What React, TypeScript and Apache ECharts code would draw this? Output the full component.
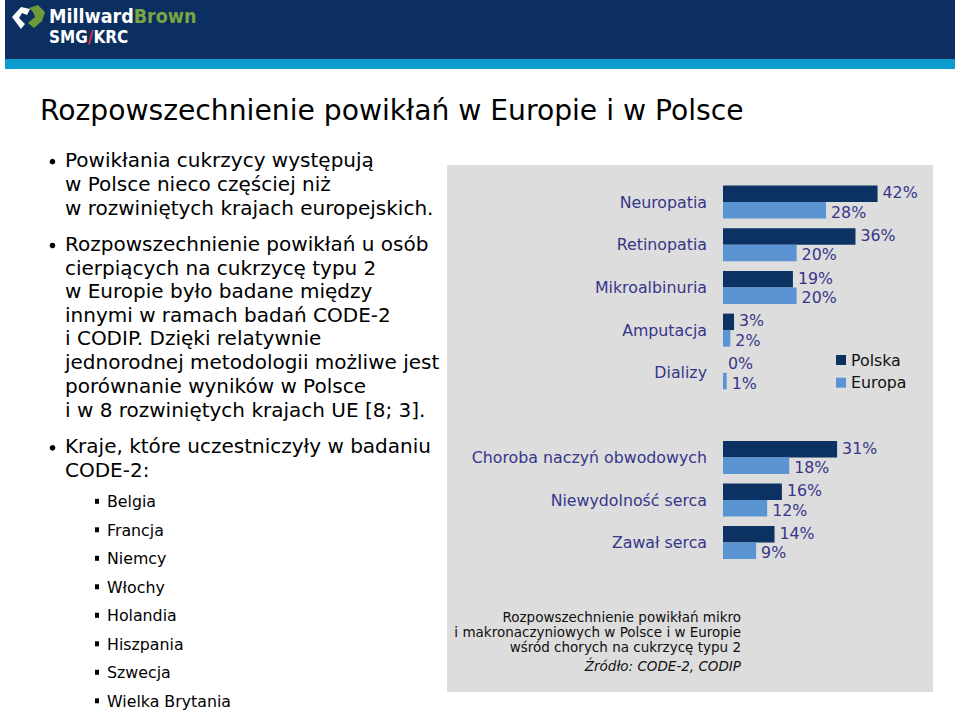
import React, { useEffect, useRef } from "react";
import * as echarts from "echarts";

const topCategories = ["Neuropatia", "Retinopatia", "Mikroalbinuria", "Amputacja", "Dializy"];
const topPolska = [42, 36, 19, 3, 0];
const topEuropa = [28, 20, 20, 2, 1];

const bottomCategories = ["Choroba naczyń obwodowych", "Niewydolność serca", "Zawał serca"];
const bottomPolska = [31, 16, 14];
const bottomEuropa = [18, 12, 9];

const seriesNames = ["Polska", "Europa"];

const titleText = "Rozpowszechnienie powikłań w Europie i w Polsce";
const bullet1 = ["Powikłania cukrzycy występują", "w Polsce nieco częściej niż", "w rozwiniętych krajach europejskich."];
const bullet2 = [
  "Rozpowszechnienie powikłań u osób",
  "cierpiących na cukrzycę typu 2",
  "w Europie było badane między",
  "innymi w ramach badań CODE-2",
  "i CODIP. Dzięki relatywnie",
  "jednorodnej metodologii możliwe jest",
  "porównanie wyników w Polsce",
  "i w 8 rozwiniętych krajach UE [8; 3].",
];
const bullet3 = ["Kraje, które uczestniczyły w badaniu", "CODE-2:"];
const countries = ["Belgia", "Francja", "Niemcy", "Włochy", "Holandia", "Hiszpania", "Szwecja", "Wielka Brytania"];
const captionLines = [
  "Rozpowszechnienie powikłań mikro",
  "i makronaczyniowych w Polsce i w Europie",
  "wśród chorych na cukrzycę typu 2",
];
const sourceText = "Źródło: CODE-2, CODIP";

const FONT = "'DejaVu Sans', Verdana, sans-serif";
const NAVY = "#0b3263";
const LIGHT = "#5a94d2";
const LABEL = "#36368a";

export default function App() {
  const ref = useRef<HTMLDivElement>(null);

  useEffect(() => {
    if (!ref.current) return;
    const chart = echarts.init(ref.current, undefined, { renderer: "svg" });

    const BODY = 20;
    const mid = (baseline: number, fs: number) => baseline - 0.35 * fs;
    const graphics: any[] = [];

    // header
    graphics.push({ type: "rect", shape: { x: 5, y: 0, width: 950, height: 59 }, style: { fill: "#0a2f60" }, z: 0 });
    graphics.push({ type: "rect", shape: { x: 5, y: 59, width: 950, height: 10 }, style: { fill: "#0d9bd0" }, z: 0 });
    // logo icon
    graphics.push({
      type: "polygon",
      shape: { points: [[12, 17], [21, 7], [30, 9], [27, 15], [22, 13], [19, 18], [25, 24], [21, 29]] },
      style: { fill: "#ffffff" },
      z: 1,
    });
    graphics.push({
      type: "polygon",
      shape: { points: [[29, 8], [38, 5], [45, 12], [42, 21], [34, 28], [28, 23], [35, 17], [33, 12]] },
      style: { fill: "#6f9a3c" },
      z: 1,
    });
    const LOGOFONT = "'DejaVu Sans Condensed', 'DejaVu Sans', sans-serif";
    graphics.push({
      type: "text",
      x: 49,
      y: 16.5,
      style: {
        text: "{a|Millward}{b|Brown}",
        verticalAlign: "middle",
        rich: {
          a: { fill: "#ffffff", fontSize: 19.5, fontWeight: "bold", fontFamily: LOGOFONT },
          b: { fill: "#7aa542", fontSize: 19.5, fontWeight: "bold", fontFamily: LOGOFONT },
        },
      },
      z: 1,
    });
    graphics.push({
      type: "text",
      x: 49,
      y: 36.5,
      style: {
        text: "{a|SMG}{b|/}{a|KRC}",
        verticalAlign: "middle",
        rich: {
          a: { fill: "#ffffff", fontSize: 17, fontWeight: "bold", fontFamily: LOGOFONT },
          b: { fill: "#e0303c", fontSize: 17, fontWeight: "bold", fontFamily: LOGOFONT },
        },
      },
      z: 1,
    });

    // title
    graphics.push({
      type: "text",
      x: 40,
      y: mid(120, 28),
      style: { text: titleText, fontSize: 28.2, fontFamily: FONT, fill: "#000", align: "left", verticalAlign: "middle" },
    });

    const addText = (t: string, x: number, baseline: number, fs: number) =>
      graphics.push({
        type: "text",
        x,
        y: mid(baseline, fs),
        style: { text: t, fontSize: fs, fontFamily: FONT, fill: "#000", align: "left", verticalAlign: "middle" },
      });

    const b1 = [167, 191, 215];
    bullet1.forEach((t, i) => addText(t, 65, b1[i], BODY));
    graphics.push({ type: "circle", shape: { cx: 52.5, cy: 161.7, r: 2.8 }, style: { fill: "#000" } });

    const b2 = [251, 274.5, 298, 321.7, 345.2, 369, 393, 416.7];
    bullet2.forEach((t, i) => addText(t, 65, b2[i], BODY));
    graphics.push({ type: "circle", shape: { cx: 52.5, cy: 245.5, r: 2.8 }, style: { fill: "#000" } });

    const b3 = [453.3, 476.7];
    bullet3.forEach((t, i) => addText(t, 65, b3[i], BODY));
    graphics.push({ type: "circle", shape: { cx: 52.5, cy: 447.8, r: 2.8 }, style: { fill: "#000" } });

    const c0 = 507.3;
    countries.forEach((t, i) => {
      const bl = c0 + i * 28.5;
      addText(t, 107, bl, 15.8);
      graphics.push({ type: "rect", shape: { x: 95, y: bl - 8.5, width: 4, height: 5 }, style: { fill: "#000" } });
    });

    // grey panel
    graphics.push({ type: "rect", shape: { x: 447, y: 165, width: 486, height: 527 }, style: { fill: "#dddddd" }, z: -10 });

    const capY = [616.7, 631.7, 646.7];
    captionLines.forEach((t, i) =>
      graphics.push({
        type: "text",
        x: 741,
        y: capY[i],
        style: { text: t, fontSize: 13.5, fontFamily: FONT, fill: "#111", align: "right", verticalAlign: "middle" },
      })
    );
    graphics.push({
      type: "text",
      x: 741,
      y: 666,
      style: { text: sourceText, fontSize: 13.5, fontStyle: "italic", fontFamily: FONT, fill: "#111", align: "right", verticalAlign: "middle" },
    });

    const SCALE = 3.68;
    const XMAX = 50;
    const step1 = 42.7;
    const step2 = 42.5;

    const catAxis = (gridIndex: number, data: string[]) => ({
      type: "category",
      gridIndex,
      data,
      inverse: true,
      axisLine: { show: false },
      axisTick: { show: false },
      axisLabel: { margin: 16, fontSize: 15.8, fontFamily: FONT, color: LABEL },
    });
    const valAxis = (gridIndex: number) => ({
      type: "value",
      gridIndex,
      min: 0,
      max: XMAX,
      show: false,
      splitLine: { show: false },
    });

    const mkSeries = (name: string, data: number[], gi: number, color: string, dy: number) => ({
      type: "bar",
      name,
      data,
      xAxisIndex: gi,
      yAxisIndex: gi,
      barWidth: 16.5,
      barGap: "0%",
      itemStyle: { color },
      label: {
        show: true,
        position: "right",
        distance: 5,
        formatter: "{c}%",
        fontSize: 15.8,
        fontFamily: FONT,
        color: LABEL,
        offset: [0, dy],
      },
    });

    chart.setOption({
      animation: false,
      backgroundColor: "#ffffff",
      graphic: { elements: graphics },
      legend: {
        data: seriesNames,
        orient: "vertical",
        left: 831,
        top: 346,
        icon: "rect",
        itemWidth: 10,
        itemHeight: 10,
        itemGap: 4.7,
        textStyle: { fontSize: 15.8, fontFamily: FONT, color: "#111", lineHeight: 18 },
      },
      grid: [
        { left: 723, top: 202 - step1 / 2, width: XMAX * SCALE, height: step1 * topCategories.length },
        { left: 723, top: 457.5 - step2 / 2, width: XMAX * SCALE, height: step2 * bottomCategories.length },
      ],
      xAxis: [valAxis(0), valAxis(1)],
      yAxis: [catAxis(0, topCategories), catAxis(1, bottomCategories)],
      series: [
        mkSeries(seriesNames[0], topPolska, 0, NAVY, -1),
        mkSeries(seriesNames[1], topEuropa, 0, LIGHT, 2),
        mkSeries(seriesNames[0], bottomPolska, 1, NAVY, -1),
        mkSeries(seriesNames[1], bottomEuropa, 1, LIGHT, 2),
      ],
    });

    return () => chart.dispose();
  }, []);

  return <div ref={ref} style={{ position: "absolute", left: 0, top: 0, width: 960, height: 711 }} />;
}
